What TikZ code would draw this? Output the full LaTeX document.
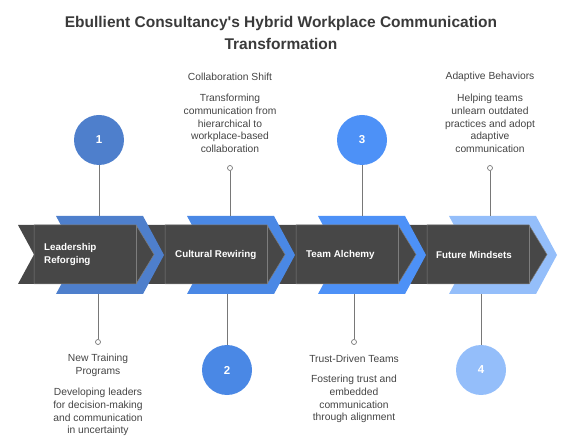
\documentclass[tikz,border=0pt]{standalone}
\usepackage{fontspec}
\setmainfont{Liberation Sans}
\usetikzlibrary{positioning}
\definecolor{bandgray}{RGB}{71,71,71}
\definecolor{divgray}{RGB}{125,125,125}
\definecolor{textgray}{RGB}{68,68,68}
\definecolor{titlegray}{RGB}{58,58,58}
\definecolor{stemgray}{RGB}{120,120,120}
\definecolor{stepone}{RGB}{78,127,204}
\definecolor{steptwo}{RGB}{74,136,229}
\definecolor{stepthree}{RGB}{77,145,247}
\definecolor{stepfour}{RGB}{148,190,250}

\begin{document}
\begin{tikzpicture}[x=1pt,y=-1pt,
  num/.style={circle,fill=#1,minimum size=50pt,inner sep=0pt,text=white,
    font=\bfseries\fontsize{11.5}{13}\selectfont},
  label/.style={text=white,font=\bfseries\fontsize{9.8}{12.5}\selectfont,
    align=left,anchor=west,inner sep=0pt},
  heading/.style={text=textgray,font=\fontsize{10.3}{12.7}\selectfont,
    align=center,inner sep=0pt},
  descr/.style={text=textgray,font=\fontsize{10.3}{12.7}\selectfont,
    align=center,inner sep=0pt,anchor=north},
  dot/.style={circle,draw=stemgray,fill=white,line width=0.7pt,
    minimum size=5pt,inner sep=0pt},
  stem/.style={draw=stemgray,line width=0.8pt},
  chevron/.style={fill=bandgray,draw=divgray,line width=0.5pt},
  divider/.style={draw=divgray,line width=0.5pt}]
  \useasboundingbox (0,0) rectangle (562,443);
  % title
  \node[font=\bfseries\fontsize{15.5}{22}\selectfont,text=titlegray,align=center]
    at(281,33)(title){Ebullient Consultancy\textquotesingle s Hybrid Workplace Communication\\Transformation};
  % dark band
  \fill[bandgray] (18,225) -- (530,225) -- (530,284) -- (18,284) -- (34,254.5) -- cycle;
  % blue chevrons
  \fill[stepone] (56,216) -- (143,216) -- (164,255) -- (143,294) -- (56,294) -- (77,255) -- cycle;
  \fill[steptwo] (187,216) -- (274,216) -- (295,255) -- (274,294) -- (187,294) -- (208,255) -- cycle;
  \fill[stepthree] (318,216) -- (405,216) -- (426,255) -- (405,294) -- (318,294) -- (339,255) -- cycle;
  \fill[stepfour] (449,216) -- (536,216) -- (557,255) -- (536,294) -- (449,294) -- (470,255) -- cycle;
  % dark chevrons
  \draw[chevron] (34,225) -- (136,225) -- (154,254.5) -- (136,284) -- (34,284) -- cycle;
  \draw[chevron] (165,225) -- (267,225) -- (285,254.5) -- (267,284) -- (165,284) -- cycle;
  \draw[chevron] (296,225) -- (398,225) -- (416,254.5) -- (398,284) -- (296,284) -- cycle;
  \draw[chevron] (427,225) -- (529,225) -- (547,254.5) -- (529,284) -- (427,284) -- cycle;
  % dividers
  \draw[divider] (136,225) -- (136,284);
  \draw[divider] (267,225) -- (267,284);
  \draw[divider] (398,225) -- (398,284);
  \draw[divider] (529,225) -- (529,284);
  % step labels
  \node[label] at(44,254.5)(s1){Leadership\\Reforging};
  \node[label] at(175,254.5)(s2){Cultural Rewiring};
  \node[label] at(306,254.5)(s3){Team Alchemy};
  \node[label] at(436,254.5)(s4){Future Mindsets};
  % band anchors
  \coordinate (t1) at (99,216);
  \coordinate (t2) at (230,216);
  \coordinate (t3) at (362,216);
  \coordinate (t4) at (490,216);
  \coordinate (u1) at (98,294);
  \coordinate (u2) at (227,294);
  \coordinate (u3) at (354,294);
  \coordinate (u4) at (481,294);
  % numbered circles
  \node[num=stepone] at(99,140)(n1){1};
  \node[num=steptwo] at(227,370)(n2){2};
  \node[num=stepthree] at(362,140)(n3){3};
  \node[num=stepfour] at(481,370)(n4){4};
  \draw[stem] (n1) -- (t1);
  \draw[stem] (n2) -- (u2);
  \draw[stem] (n3) -- (t3);
  \draw[stem] (n4) -- (u4);
  % text stems
  \node[dot] at(230,168)(d2){};
  \node[dot] at(490,168)(d4){};
  \node[dot] at(98,342)(d1){};
  \node[dot] at(354,342)(d3){};
  \draw[stem] (d2) -- (t2);
  \draw[stem] (d4) -- (t4);
  \draw[stem] (u1) -- (d1);
  \draw[stem] (u3) -- (d3);
  % texts
  \node[heading] at(230,77)(h2){Collaboration Shift};
  \node[descr] at(230,94)(e2){Transforming\\communication from\\hierarchical to\\workplace-based\\collaboration};
  \node[heading] at(490,77)(h4){Adaptive Behaviors};
  \node[descr] at(490,94)(e4){Helping teams\\unlearn outdated\\practices and adopt\\adaptive\\communication};
  \node[heading,anchor=north] at(98,354)(h1){New Training\\Programs};
  \node[descr] at(98,388)(e1){Developing leaders\\for decision-making\\and communication\\in uncertainty};
  \node[heading] at(354,359)(h3){Trust-Driven Teams};
  \node[descr] at(354,375)(e3){Fostering trust and\\embedded\\communication\\through alignment};
\end{tikzpicture}
\end{document}
